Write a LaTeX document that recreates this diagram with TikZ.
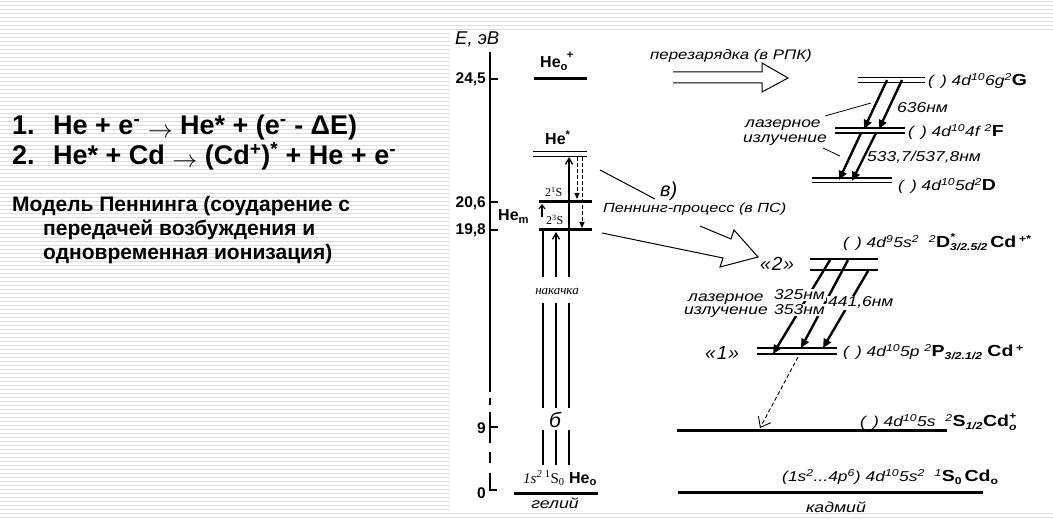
\documentclass[tikz,border=0pt]{standalone}
\usepackage{fontspec}
\setmainfont{Liberation Sans}
\newfontfamily\srf{Liberation Serif}
\newfontfamily\wide[FakeStretch=1.22]{Liberation Sans}
\usetikzlibrary{arrows.meta}
\definecolor{stripecol}{HTML}{DDDDDD}
\newcommand\tmx[1]{{\upshape\bfseries\fontsize{16}{16}\selectfont #1}}
\begin{document}
\begin{tikzpicture}[x=1pt,y=-1pt,
  txt/.style={inner sep=0pt, anchor=base west},
  lvl/.style={line width=3pt},
  dlvl/.style={line width=1.8pt},
  hl/.style={line width=0.9pt},
  pumpline/.style={line width=1.8pt},
  pumparrow/.style={line width=1.8pt,-{Straight Barb[length=6pt,width=7pt,line width=1.3pt]}},
  dasharrow/.style={line width=0.9pt, dash pattern=on 4pt off 2pt, -{Triangle[length=6pt,width=5pt]}},
  laser/.style={line width=2.4pt, -{Triangle[length=9pt,width=8pt]}},
  hollow/.style={line width=1pt, line join=miter},
  ptr/.style={line width=0.8pt},
  cfg/.style={txt, font=\wide\fontsize{14.3}{15}\selectfont\itshape},
  lab/.style={txt, font=\wide\fontsize{14.3}{15}\selectfont\itshape, fill=white, inner sep=1pt},
  axlab/.style={inner sep=0pt, anchor=base east, font=\fontsize{15.5}{16}\selectfont\bfseries},
  big/.style={txt, font=\fontsize{27}{27}\selectfont\bfseries},
  mid/.style={txt, font=\fontsize{21}{21}\selectfont\bfseries},
  hel/.style={txt, font=\fontsize{16}{16}\selectfont\bfseries},
  kk/.style={txt, font=\fontsize{19}{19}\selectfont\itshape},
  axisline/.style={line width=2.2pt}
]
\useasboundingbox (0,0) rectangle (1053,521);
% slide background stripes
\foreach \i in {0,...,130} \draw[stripecol, line width=1pt] (0,{\i*4+1.5}) -- (1053,{\i*4+1.5});
\fill[white] (450,30) rectangle (1053,511);

% ---------- left text ----------
\node[big] (n1) at (12,135) {1.};
\node[big] (eq1) at (53,135) {He + e\textsuperscript{-} \raisebox{-3pt}{$\rightarrow$} He* + (e\textsuperscript{-} - ΔE)};
\node[big] (n2) at (12,165) {2.};
\node[big] (eq2) at (53,165) {He* + Cd \raisebox{-3pt}{$\rightarrow$} (Cd\textsuperscript{+})\textsuperscript{*} + He + e\textsuperscript{-}};
\node[mid] (m1) at (12,212) {Модель Пеннинга (соударение с};
\node[mid] (m2) at (43,236) {передачей возбуждения и};
\node[mid] (m3) at (43,260) {одновременная ионизация)};

% ---------- energy axis ----------
\coordinate (axtop) at (490,52);
\coordinate (axsol) at (490,392);
\draw[axisline] (axtop) -- (axsol);
\draw[axisline] (490,398) -- (490,405);
\draw[axisline] (490,412) -- (490,443);
\draw[axisline] (490,452) -- (490,463);
\draw[axisline] (490,473) -- (490,490) -- (497,490);
\foreach \yy in {79,202,230,427} \draw[axisline] (490,\yy) -- (498,\yy);
\node[txt, font=\fontsize{18.5}{18}\selectfont\itshape] (Elab) at (455,45) {E, эВ};
\node[axlab] (t245) at (486,84) {24,5};
\node[axlab] (t206) at (486,208) {20,6};
\node[axlab] (t198) at (486,235) {19,8};
\node[axlab] (t9) at (486,433) {9};
\node[axlab] (t0) at (486,498) {0};

% ---------- helium ----------
\draw[lvl] (534,79) -- (587,79);
\node[hel] (heplus) at (540,68) {He\textsubscript{o}\kern-1pt\raisebox{3pt}{\textsuperscript{+}}};
\draw[hl] (533,151) -- (587,151);
\draw[hl] (533,156) -- (587,156);
\node[hel] (hestar) at (545,145) {He\textsuperscript{*}};
\draw[lvl] (539,202) -- (592,202);
\draw[lvl] (539,230) -- (592,230);
\node[hel] (hem) at (498,221) {He\textsubscript{m}};
\node[txt, font=\srf\fontsize{12}{12}\selectfont] (s21) at (545,197) {2\textsuperscript{1}S};
\node[txt, font=\srf\fontsize{12}{12}\selectfont] (s23) at (546,225) {2\textsuperscript{3}S};
\draw[lvl] (514,493) -- (598,493);
\node[txt, font=\fontsize{16}{16}\selectfont] (heg) at (523,483) {{\srf\fontsize{15}{15}\selectfont\itshape 1s\textsuperscript{2}\,}{\srf\fontsize{15}{15}\selectfont\textsuperscript{1}S\textsubscript{0}} \bfseries He\textsubscript{o}};
\node[inner sep=0pt, anchor=base, font=\wide\fontsize{14.5}{14}\selectfont\itshape] (gel) at (555,508) {гелий};
\node[inner sep=0pt, anchor=base, font=\srf\fontsize{13}{13}\selectfont\itshape] (nak) at (557,295) {накачка};
\node[inner sep=0pt, anchor=base, font=\fontsize{21}{21}\selectfont\itshape] (bb) at (555,428) {б};

% pump lines
\draw[pumpline] (543,231) -- (543,277);
\draw[pumpline] (543,303) -- (543,408);
\draw[pumpline] (543,430) -- (543,465);
\draw[pumparrow] (556,277) -- (556,232);
\draw[pumpline] (556,303) -- (556,408);
\draw[pumpline] (556,430) -- (556,465);
\draw[pumparrow] (569,277) -- (569,157);
\draw[pumpline] (569,303) -- (569,408);
\draw[pumpline] (569,430) -- (569,465);
\draw[line width=1.3pt,-{Straight Barb[length=4pt,width=6pt,line width=1.1pt]}] (542,217) -- (542,204);
\draw[dasharrow] (577,157) -- (577,199);
\draw[dasharrow] (582,157) -- (582,228);

% ---------- Penning arrow ----------
\draw[hollow] (600,170) -- (655,199);
\draw[hollow] (700,226) -- (731,239) -- (734,230) -- (758,257) -- (720,267) -- (723,258) -- (602,233);
\node[txt, font=\fontsize{20}{20}\selectfont\itshape] (vv) at (660,197) {в)};
\node[txt, font=\wide\fontsize{13.3}{13}\selectfont\itshape] (penn) at (603,213) {Пеннинг-процесс (в ПС)};

% ---------- recharge arrow ----------
\draw[hollow] (673,72) -- (762,72) -- (762,63) -- (788,78) -- (762,92) -- (762,83) -- (673,83);
\node[txt, font=\wide\fontsize{13.8}{14}\selectfont\itshape] (perez) at (650,60) {перезарядка (в РПК)};

% ---------- cadmium upper levels ----------
\draw[dlvl] (858,77.5) -- (925,77.5);
\draw[dlvl] (858,82.5) -- (925,82.5);
\draw[dlvl] (835,128) -- (905,128);
\draw[dlvl] (835,133) -- (905,133);
\draw[dlvl] (812,178) -- (892,178);
\draw[dlvl] (812,182.5) -- (892,182.5);
\node[cfg] (lG) at (928,86) {(\hspace{7pt}) 4d\textsuperscript{10}6g\textsuperscript{2}\tmx{G}};
\node[cfg] (lF) at (908,137) {(\hspace{7pt}) 4d\textsuperscript{10}4f \textsuperscript{2}\tmx{F}};
\node[cfg] (lD) at (898,191) {(\hspace{7pt}) 4d\textsuperscript{10}5d\textsuperscript{2}\tmx{D}};
\coordinate (ga) at (887,80); \coordinate (fa) at (864,129);
\coordinate (gb) at (902,80); \coordinate (fb) at (879,129);
\coordinate (fc) at (861,133); \coordinate (da) at (839,180);
\coordinate (fd) at (876,133); \coordinate (db) at (852,181);
\draw[laser] (ga) -- (fa);
\draw[laser] (gb) -- (fb);
\draw[laser] (fc) -- (da);
\draw[laser] (fd) -- (db);
\node[cfg] (nm636) at (897,113) {636нм};
\node[cfg] (nm533) at (867,162) {533,7/537,8нм};
\node[cfg] (las1) at (745,128) {лазерное};
\node[cfg] (izl1) at (743,143) {излучение};
\draw[ptr] (825,116) -- (871,103);
\draw[ptr] (823,148) -- (840,156);

% ---------- cadmium ion levels ----------
\draw[dlvl] (810,259) -- (878,259);
\draw[dlvl] (810,270) -- (878,270);
\draw[dlvl] (757,348) -- (837,348);
\draw[dlvl] (757,354) -- (837,354);
\node[kk] (k2) at (760,271) {«\kern1pt2\kern1pt»};
\node[kk] (k1) at (705,360) {«\kern1pt1\kern1pt»};
\node[cfg] (lD2) at (843,248) {(\hspace{7pt}) 4d\textsuperscript{9}5s\textsuperscript{2} \ \textsuperscript{2}\tmx{D}\rlap{\raisebox{2pt}{\textsuperscript{\bfseries *}}}\textsubscript{\bfseries 3/2.5/2}\,\tmx{Cd}\,\textsuperscript{\bfseries +*}};
\node[cfg] (lP) at (843,357) {(\hspace{7pt}) 4d\textsuperscript{10}5p \textsuperscript{2}\tmx{P}\textsubscript{\bfseries 3/2.1/2} \tmx{Cd}\,\textsuperscript{\bfseries +}};
\coordinate (ta) at (830,260); \coordinate (pa) at (773,354);
\coordinate (tb) at (848,260); \coordinate (pb) at (801,348);
\coordinate (tc) at (868,271); \coordinate (pc) at (823,348);
\draw[laser] (ta) -- (pa);
\draw[laser] (tb) -- (pb);
\draw[laser] (tc) -- (pc);
\node[lab] (l325) at (773,300) {325нм};
\node[lab] (l353) at (773,315) {353нм};
\node[lab] (l441) at (827,307) {441,6нм};
\node[cfg] (las2) at (688,302) {лазерное};
\node[cfg] (izl2) at (684,315) {излучение};
\coordinate (pd) at (798,357); \coordinate (sd) at (760,428);
\draw[line width=0.9pt, dash pattern=on 4pt off 2.5pt, -{Straight Barb[length=9pt,width=14pt,line width=0.9pt]}] (pd) -- (sd);

% ---------- cadmium ground levels ----------
\draw[lvl] (677,431) -- (947,431);
\draw[lvl] (678,492) -- (983,492);
\node[cfg] (lS1) at (860,427) {(\hspace{7pt}) 4d\textsuperscript{10}5s \ \textsuperscript{2}\tmx{S}\textsubscript{\bfseries 1/2}\tmx{Cd}\rlap{\raisebox{-1pt}{\textsubscript{\bfseries o}}}\raisebox{2pt}{\textsuperscript{\bfseries +}}};
\node[cfg] (lS0) at (782,482) {(1s\textsuperscript{2}...4p\textsuperscript{6}) 4d\textsuperscript{10}5s\textsuperscript{2} \ \textsuperscript{1}\tmx{S}\textsubscript{\bfseries\upshape 0}\,\tmx{Cd}\textsubscript{\bfseries\upshape o}};
\node[inner sep=0pt, anchor=base, font=\wide\fontsize{14.5}{14}\selectfont\itshape] (kad) at (836,512) {кадмий};
\end{tikzpicture}
\end{document}
